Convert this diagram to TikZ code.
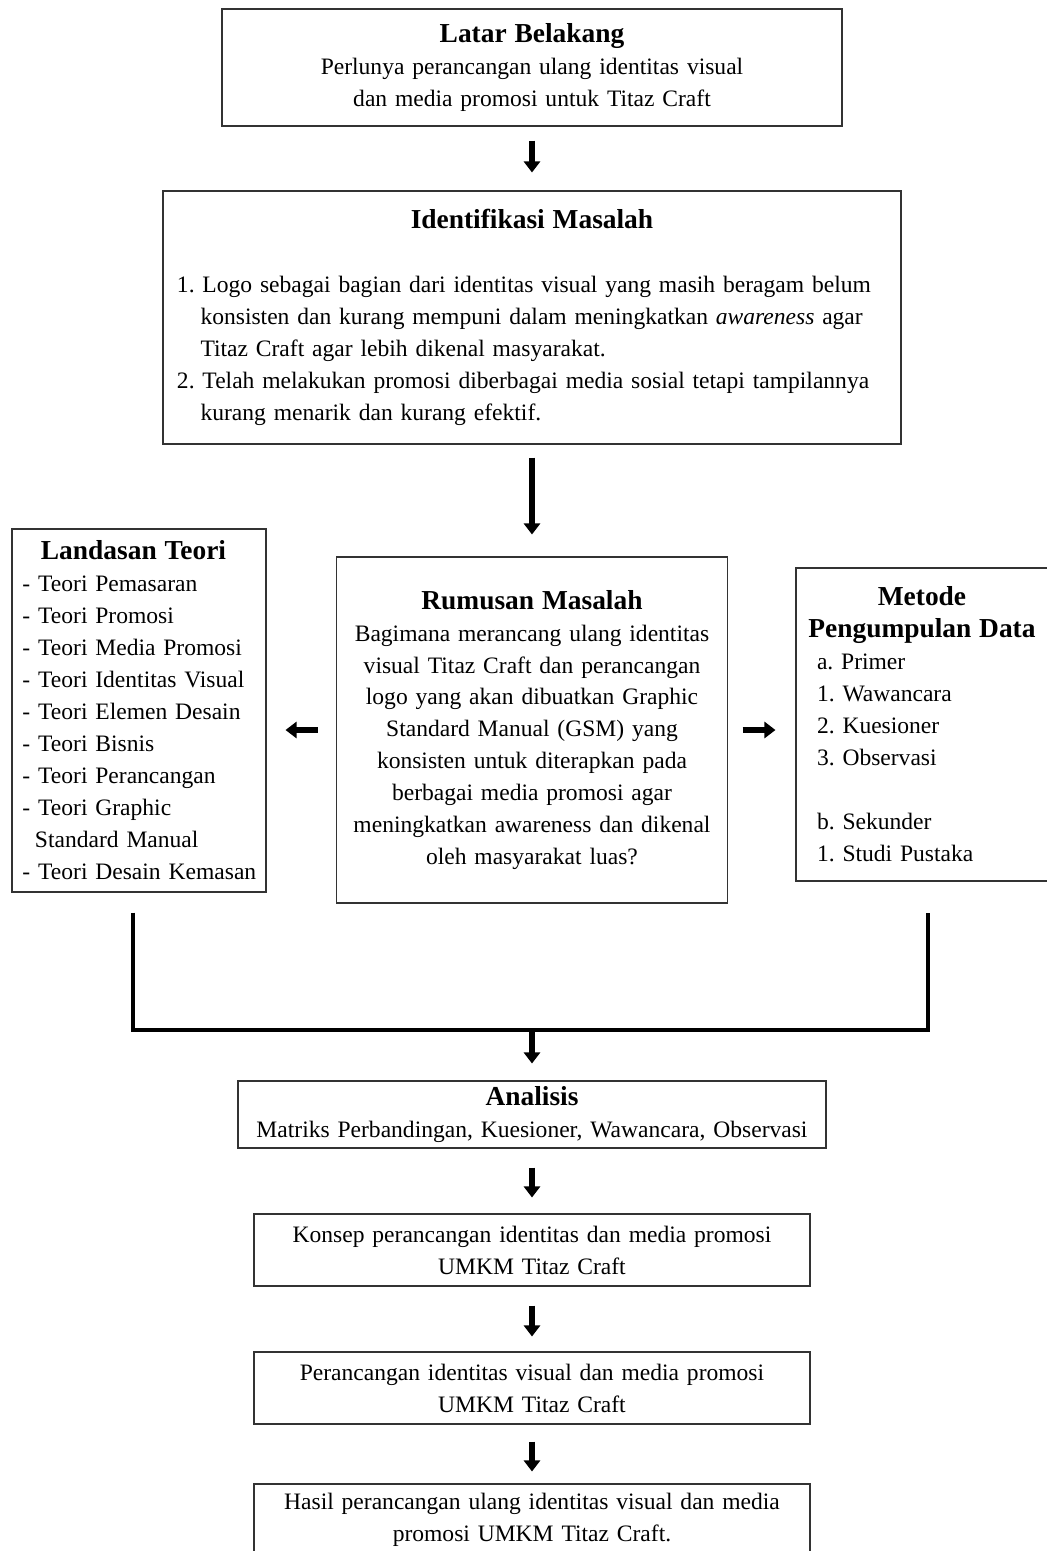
\documentclass[tikz,border=0pt]{standalone}
\usepackage{fontspec}
\setmainfont{Liberation Serif}
\usepackage{tikz}
\usetikzlibrary{arrows.meta}
\newcommand{\judul}[1]{{\fontsize{15.6}{18.2}\selectfont\bfseries #1}}
\tikzstyle{box} = [rectangle, draw=black!80, line width=0.6pt, inner ysep=2pt, font=\fontsize{13.4}{18.2}\selectfont\frenchspacing]
\tikzstyle{arrow} = [line width=3.1pt,-{Triangle[width=0.32cm,length=0.22cm]}]
\tikzstyle{garis} = [line width=1.9pt]

\begin{document}
\begin{tikzpicture}[node distance=2cm]
            \path[use as bounding box, clip] (-10.64,1.35) rectangle (10.30,-29.67);
            \node(latar)[box, text width=12cm, inner xsep=0.2cm, minimum height=2.34cm, align=center]{\judul{Latar Belakang}\\ Perlunya perancangan ulang identitas visual\\ dan media promosi untuk Titaz Craft};
            \node(ident)[box, below of=latar, yshift=-3cm, text width=14.2cm, inner xsep=0.28cm, minimum height=5.06cm, align=left]{\makebox[\linewidth]{\judul{Identifikasi Masalah}}\\[18.2pt]
            1. Logo sebagai bagian dari identitas visual yang masih beragam belum\\
            \hspace*{1em}konsisten dan kurang mempuni dalam meningkatkan \textit{awareness} agar\\
            \hspace*{1em}Titaz Craft agar lebih dikenal masyarakat.\\
            2. Telah melakukan promosi diberbagai media sosial tetapi tampilannya\\
            \hspace*{1em}kurang menarik dan kurang efektif.};
            \node(rumusan)[box, below of=ident, yshift=-6.25cm, text width=7.4cm, inner xsep=0.21cm, minimum height=6.92cm, align=center]{\judul{Rumusan Masalah}\\ Bagimana merancang ulang identitas\\ visual Titaz Craft dan perancangan\\ logo yang akan dibuatkan Graphic\\ Standard Manual (GSM) yang\\ konsisten untuk diterapkan pada\\ berbagai media promosi agar\\ meningkatkan awareness dan dikenal\\ oleh masyarakat luas?};
            \node(landasan)[box, left of=rumusan, xshift=-5.86cm, yshift=0.39cm, text width=4.76cm, inner xsep=0.16cm, minimum height=7.26cm, align=left]{\makebox[\linewidth]{\judul{Landasan Teori}\hspace*{0.22cm}}\\
            \hspace*{0.05cm}- Teori Pemasaran\\
            \hspace*{0.05cm}- Teori Promosi\\
            \hspace*{0.05cm}- Teori Media Promosi\\
            \hspace*{0.05cm}- Teori Identitas Visual\\
            \hspace*{0.05cm}- Teori Elemen Desain\\
            \hspace*{0.05cm}- Teori Bisnis\\
            \hspace*{0.05cm}- Teori Perancangan\\
            \hspace*{0.05cm}- Teori Graphic\\
            \hspace*{0.3cm}Standard Manual\\
            \hspace*{0.05cm}\mbox{- Teori Desain Kemasan}};
            \node(metode)[box, right of=rumusan, xshift=5.8cm, yshift=0.11cm, text width=4.84cm, inner xsep=0.1cm, minimum height=6.26cm, align=left]{\makebox[\linewidth]{\judul{Metode}}\\
            \makebox[\linewidth]{\judul{Pengumpulan Data}}\\
            \hspace*{0.32cm}a. Primer\\
            \hspace*{0.32cm}1. Wawancara\\
            \hspace*{0.32cm}2. Kuesioner\\
            \hspace*{0.32cm}3. Observasi\\[18.2pt]
            \hspace*{0.32cm}b. Sekunder\\
            \hspace*{0.32cm}1. Studi Pustaka};
            \node(analisis)[box, below of=rumusan, yshift=-5.69cm, text width=11.36cm, inner xsep=0.2cm, minimum height=1.34cm, align=center]{\judul{Analisis}\\ Matriks Perbandingan, Kuesioner, Wawancara, Observasi};
            \node(konsep)[box, below of=analisis, yshift=-0.71cm, text width=10.72cm, inner xsep=0.2cm, minimum height=1.44cm, align=center]{Konsep perancangan identitas dan media promosi\\ UMKM Titaz Craft};
            \node(rancang)[box, below of=konsep, yshift=-0.76cm, text width=10.72cm, inner xsep=0.2cm, minimum height=1.44cm, align=center]{Perancangan identitas visual dan media promosi\\ UMKM Titaz Craft};
            \node(hasil)[box, below of=rancang, yshift=-0.64cm, text width=10.72cm, inner xsep=0.2cm, minimum height=1.44cm, align=center]{Hasil perancangan ulang identitas visual dan media\\ promosi UMKM Titaz Craft.};
            \coordinate(kiri) at ([xshift=-0.12cm,yshift=-0.4cm]landasan.south);
            \coordinate(kanan) at ([xshift=0.12cm,yshift=-0.62cm]metode.south);
            \coordinate(gabung) at ([yshift=1.01cm]analisis.north);
            \draw[arrow, shorten <=0.28cm, shorten >=0.36cm](latar)--(ident);
            \draw[arrow, shorten <=0.26cm, shorten >=0.44cm](ident)--(rumusan);
            \draw[arrow, shorten <=0.36cm, shorten >=0.38cm](rumusan.west)--(rumusan.west -| landasan.east);
            \draw[arrow, shorten <=0.29cm, shorten >=0.4cm](rumusan.east)--(rumusan.east -| metode.west);
            \draw[garis](kiri) |- (gabung) -| (kanan);
            \draw[arrow, shorten >=0.34cm](gabung)--(analisis);
            \draw[arrow, shorten <=0.38cm, shorten >=0.32cm](analisis)--(konsep);
            \draw[arrow, shorten <=0.38cm, shorten >=0.3cm](konsep)--(rancang);
            \draw[arrow, shorten <=0.34cm, shorten >=0.24cm](rancang)--(hasil);
        \end{tikzpicture}
\end{document}
